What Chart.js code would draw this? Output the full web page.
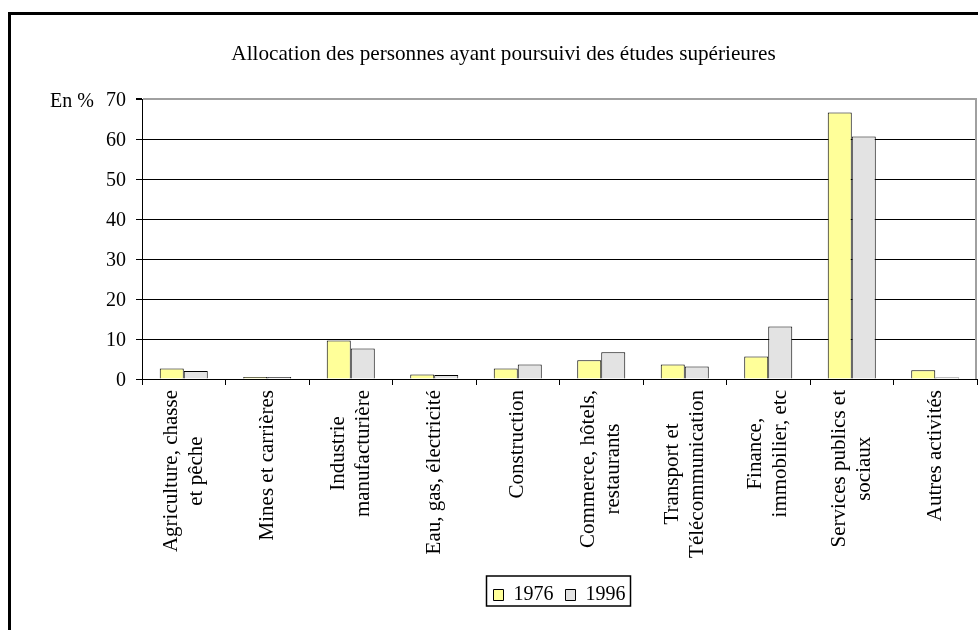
<!DOCTYPE html>
<html>
<head>
<meta charset="utf-8">
<script src="https://cdn.jsdelivr.net/npm/chart.js@4"></script>
<style>
  html, body { margin: 0; padding: 0; background: #fff; }
  .wrap { position: relative; width: 978px; height: 630px; overflow: hidden; }
  .frame {
    position: absolute; left: 8px; top: 12px; width: 1200px; height: 900px;
    border-left: 3px solid #000; border-top: 3px solid #000;
  }
  canvas { position: absolute; left: 0; top: 0; }
</style>
</head>
<body>
<div class="wrap">
  <div class="frame"></div>
  <canvas id="chart" width="978" height="630"></canvas>
</div>
<script>
// ---- data ----
const titleText = 'Allocation des personnes ayant poursuivi des études supérieures';
const unitLabel = 'En %';
const categories = [
    ['Agriculture, chasse', 'et pêche'],
    ['Mines et carrières'],
    ['Industrie', 'manufacturière'],
    ['Eau, gas, électricité'],
    ['Construction'],
    ['Commerce, hôtels,', 'restaurants'],
    ['Transport et', 'Télécommunication'],
    ['Finance,', 'immobilier, etc'],
    ['Services publics et', 'sociaux'],
    ['Autres activités'],
];
const seriesNames = ['1976', '1996'];
const values1976 = [2.6, 0.5, 9.6, 1.1, 2.6, 4.7, 3.6, 5.6, 66.6, 2.2];
const values1996 = [2.0, 0.5, 7.6, 1.0, 3.6, 6.7, 3.1, 13.1, 60.6, 0.4];
const yTicks = [0, 10, 20, 30, 40, 50, 60, 70];

const serif = '"Liberation Serif", "Times New Roman", serif';

// ---- extra drawing: title, unit, rotated labels, frames ----
const decor = {
    id: 'decor',
    afterDraw(chart) {
        const { ctx, chartArea, scales: { x, y } } = chart;
        ctx.save();
        ctx.fillStyle = '#000';

        // title
        ctx.font = '21.2px ' + serif;
        ctx.textAlign = 'center';
        ctx.textBaseline = 'alphabetic';
        ctx.fillText(titleText, 503.5, 60);

        // unit next to top tick
        ctx.font = '20px ' + serif;
        ctx.textAlign = 'left';
        ctx.fillText(unitLabel, 50, y.getPixelForValue(yTicks[yTicks.length - 1]) + 7.5);

        // plot border, right side (grey)
        ctx.strokeStyle = '#a0a0a0';
        ctx.lineWidth = 2;
        ctx.beginPath();
        ctx.moveTo(chartArea.right - 1, chartArea.top);
        ctx.lineTo(chartArea.right - 1, chartArea.bottom);
        ctx.stroke();

        // category labels, rotated, lines centred on each other
        ctx.font = '21px ' + serif;
        ctx.textAlign = 'center';
        ctx.textBaseline = 'middle';
        const lh = 25;
        chart.data.labels.forEach((lines, i) => {
            const cx = x.getPixelForValue(i);
            const maxW = Math.max(...lines.map(s => ctx.measureText(s).width));
            ctx.save();
            ctx.translate(cx, x.top + 11);
            ctx.rotate(-Math.PI / 2);
            lines.forEach((s, k) => {
                ctx.fillText(s, -maxW / 2, (k - (lines.length - 1) / 2) * lh);
            });
            ctx.restore();
        });

        // box round the legend
        const hb = chart.legend.legendHitBoxes;
        if (hb && hb.length) {
            const last = hb[hb.length - 1];
            const l = hb[0].left - 7;
            const r = last.left + last.width + 5;
            const t = hb[0].top - 9;
            const b = hb[0].top + hb[0].height + 1;
            ctx.strokeStyle = '#000';
            ctx.lineWidth = 1.5;
            ctx.strokeRect(l, t, r - l, b - t);
        }
        ctx.restore();
    }
};

new Chart(document.getElementById('chart'), {
    type: 'bar',
    data: {
        labels: categories,
        datasets: [
            {
                label: seriesNames[0],
                data: values1976,
                backgroundColor: '#ffff99',
                borderColor: '#000',
                borderWidth: 1,
            },
            {
                label: seriesNames[1],
                data: values1996,
                backgroundColor: '#e3e3e3',
                borderColor: '#000',
                borderWidth: 1,
            }
        ]
    },
    options: {
        responsive: false,
        animation: false,
        devicePixelRatio: 1,
        categoryPercentage: 0.575,
        barPercentage: 1.0,
        layout: { padding: { top: 99, right: 1, left: 0, bottom: 15 } },
        plugins: {
            title: { display: false },
            tooltip: { enabled: false },
            legend: {
                position: 'bottom',
                fullSize: false,
                labels: {
                    color: '#000',
                    boxWidth: 10,
                    boxHeight: 11,
                    padding: 12,
                    font: { family: serif, size: 20 },
                }
            }
        },
        scales: {
            x: {
                afterFit: s => { s.height = 194; },
                ticks: { display: false },
                grid: {
                    offset: true,
                    drawOnChartArea: false,
                    drawTicks: true,
                    tickLength: 6,
                    color: '#000',
                },
                border: { color: '#000', width: 1 },
            },
            y: {
                min: 0,
                max: 70,
                afterFit: s => { s.width = 142; },
                afterBuildTicks: s => { s.ticks = yTicks.map(v => ({ value: v })); },
                ticks: {
                    color: '#000',
                    padding: 10,
                    labelOffset: 2,
                    font: { family: serif, size: 20 },
                },
                grid: {
                    color: c => (c.tick && c.tick.value === 70 ? '#a0a0a0' : '#000'),
                    lineWidth: c => (c.tick && c.tick.value === 70 ? 2 : 1),
                    tickLength: 6,
                    tickColor: '#000',
                },
                border: { color: '#000', width: 1 },
            }
        }
    },
    plugins: [decor]
});
</script>
</body>
</html>
